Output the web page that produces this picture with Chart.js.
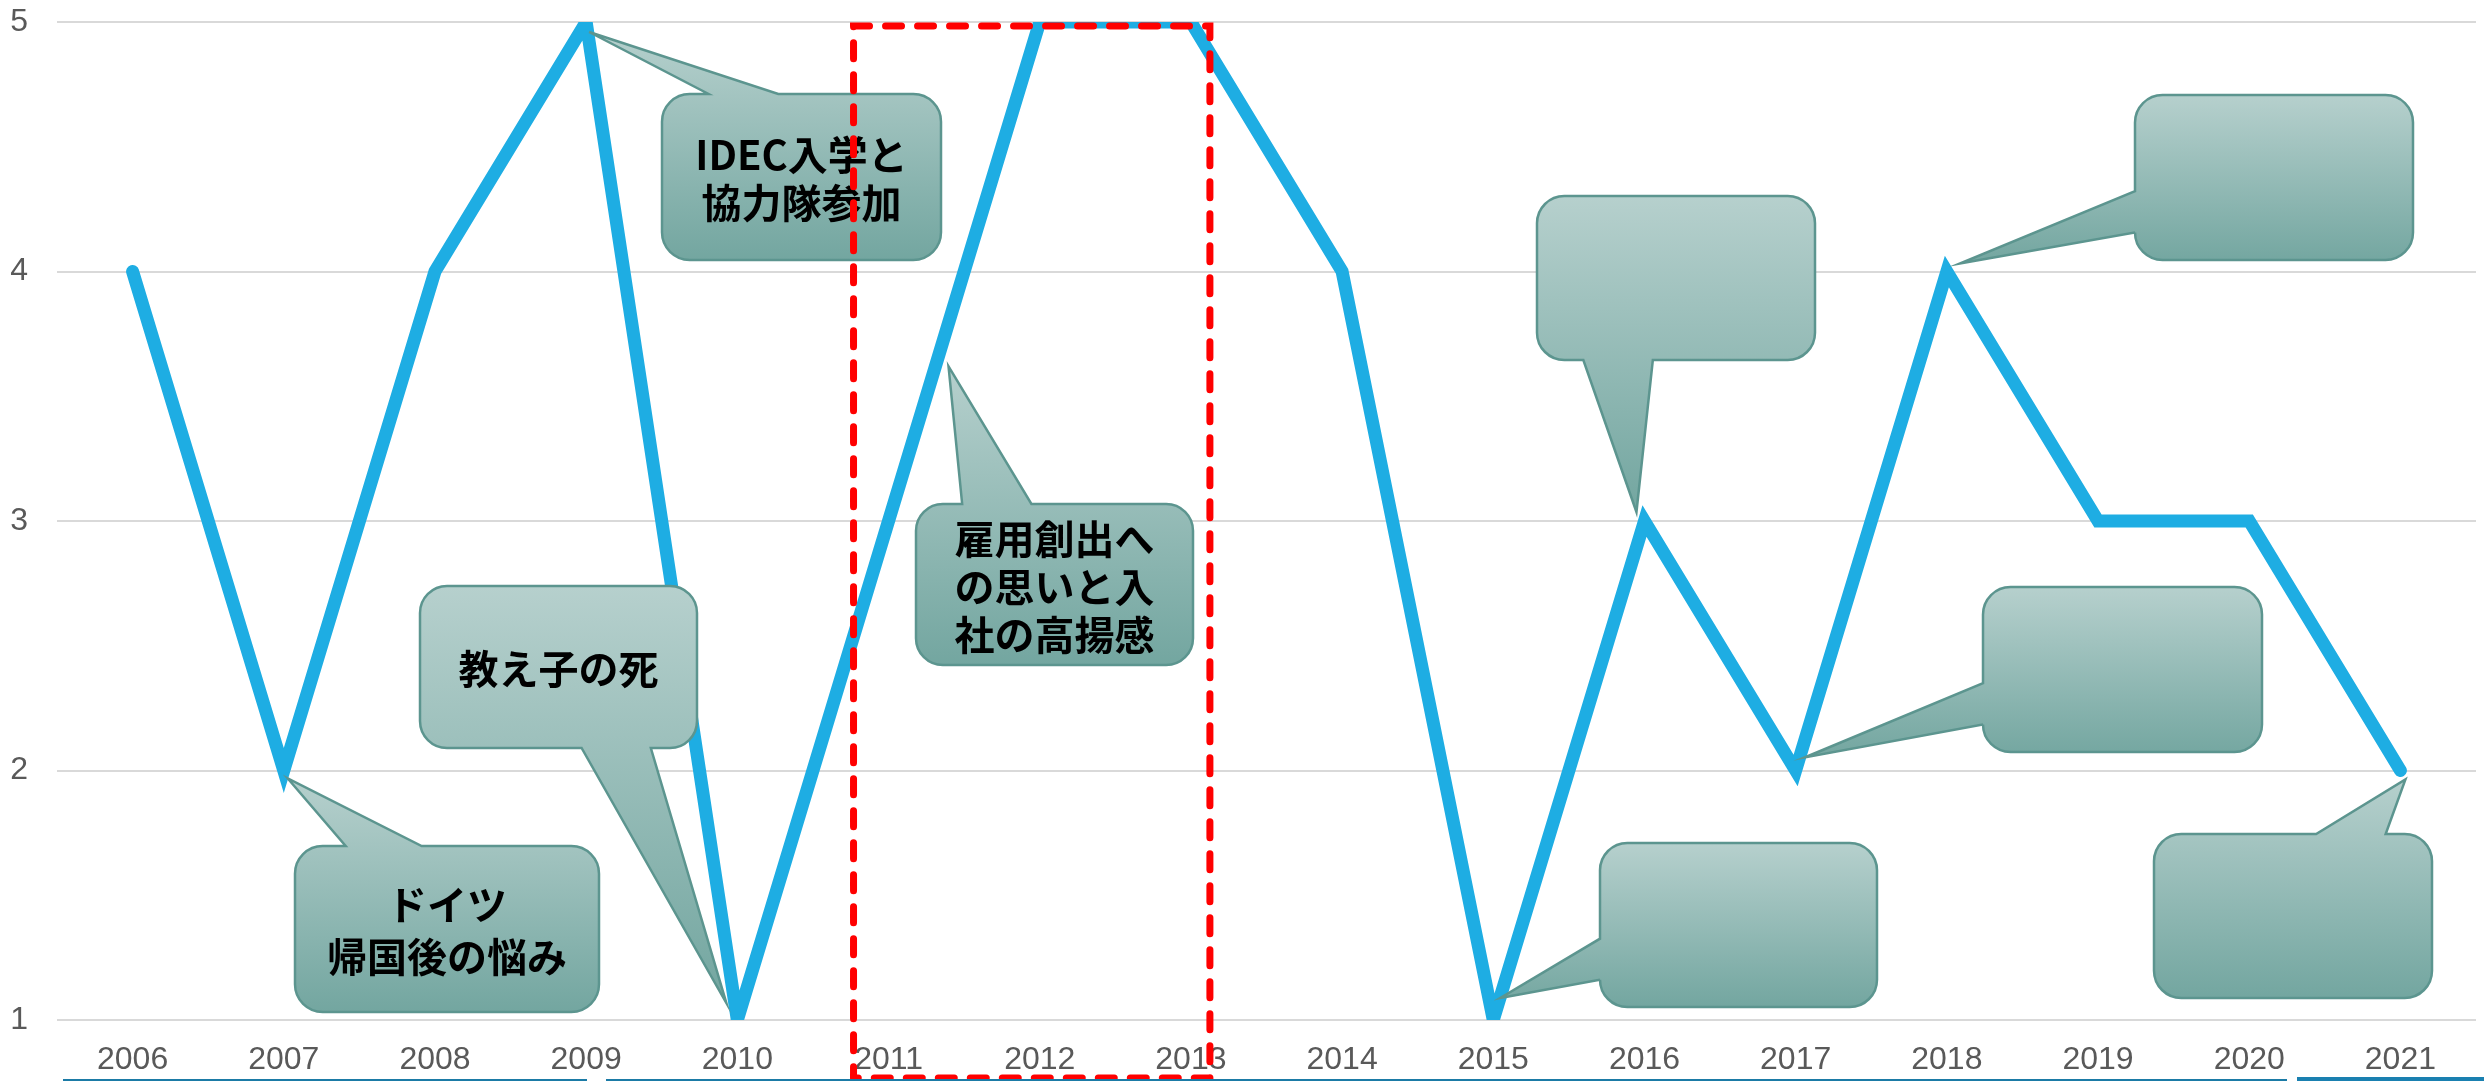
<!DOCTYPE html>
<html>
<head>
<meta charset="utf-8">
<script src="https://cdn.jsdelivr.net/npm/chart.js@4.4.1/dist/chart.umd.min.js"></script>
<style>
  html, body { margin: 0; padding: 0; background: #fff; }
  #wrap { width: 2484px; height: 1081px; }
</style>
</head>
<body>
<div id="wrap"><canvas id="lifeChart" width="2484" height="1081"></canvas></div>
<script>
// chart data
const years = ['2006', '2007', '2008', '2009', '2010', '2011', '2012', '2013',
	'2014', '2015', '2016', '2017', '2018', '2019', '2020', '2021'];
const values = [4, 2, 4, 5, 1, 3, 5, 5, 4, 1, 3, 2, 4, 3, 3, 2];
const yTicks = [1, 2, 3, 4, 5];

// callout texts (empty ones are blank boxes in the original)
const calloutTexts = [
	['IDEC入学と', '協力隊参加'],
	['ドイツ', '帰国後の悩み'],
	['教え子の死'],
	['雇用創出へ', 'の思いと入', '社の高揚感'],
	[], [], [], [], []
];

// box = pixel rectangle, tip points to a data index (i) / value (v) plus a nudge
const calloutBoxes = [
	{ box: [662, 94, 941, 260], i: 3, v: 5, dx: 3, dy: 10, lh: 48 },
	{ box: [295, 846, 599, 1012], i: 1, v: 2, dx: 4, dy: 8, lh: 52 },
	{ box: [420, 586, 697, 748], i: 4, v: 1, dx: -11, dy: -17, lh: 48 },
	{ box: [916, 504, 1193, 665], i: 5, v: 3.62, dx: 60, dy: 0, lh: 48 },
	{ box: [1537, 196, 1815, 360], i: 10, v: 3, dx: -8, dy: -9 },
	{ box: [2135, 95, 2413, 260], i: 12, v: 4, dx: 13, dy: -8 },
	{ box: [1983, 587, 2262, 752], i: 11, v: 2, dx: 9, dy: -13 },
	{ box: [2154, 834, 2432, 998], i: 15, v: 2, dx: 5, dy: 9 },
	{ box: [1600, 843, 1877, 1007], i: 9, v: 1, dx: 7, dy: -22 }
];

// rounded rectangle callout, wedge placed like PowerPoint's wedgeRoundRectCallout
function calloutPath(ctx, l, t, r, b, tip) {
	const w = r - l, h = b - t;
	const dx = tip.x - (l + r) / 2, dy = tip.y - (t + b) / 2;
	const dq = dx * h / w;
	const rad = Math.min(w, h) * 0.16667;
	const x1 = l + w * (dx > 0 ? 7 : 2) / 12, x2 = l + w * (dx > 0 ? 10 : 5) / 12;
	const y1 = t + h * (dy > 0 ? 7 : 2) / 12, y2 = t + h * (dy > 0 ? 10 : 5) / 12;
	let side;
	if (Math.abs(dy) - Math.abs(dq) > 0) side = dy > 0 ? 'bottom' : 'top';
	else side = dx > 0 ? 'right' : 'left';

	ctx.beginPath();
	ctx.moveTo(l + rad, t);
	if (side === 'top') { ctx.lineTo(x1, t); ctx.lineTo(tip.x, tip.y); ctx.lineTo(x2, t); }
	ctx.lineTo(r - rad, t);
	ctx.arcTo(r, t, r, t + rad, rad);
	if (side === 'right') { ctx.lineTo(r, y1); ctx.lineTo(tip.x, tip.y); ctx.lineTo(r, y2); }
	ctx.lineTo(r, b - rad);
	ctx.arcTo(r, b, r - rad, b, rad);
	if (side === 'bottom') { ctx.lineTo(x2, b); ctx.lineTo(tip.x, tip.y); ctx.lineTo(x1, b); }
	ctx.lineTo(l + rad, b);
	ctx.arcTo(l, b, l, b - rad, rad);
	if (side === 'left') { ctx.lineTo(l, y2); ctx.lineTo(tip.x, tip.y); ctx.lineTo(l, y1); }
	ctx.lineTo(l, t + rad);
	ctx.arcTo(l, t, l + rad, t, rad);
	ctx.closePath();
}

const calloutPlugin = {
	id: 'callouts',
	afterDraw (chart) {
		const ctx = chart.ctx;
		const xs = chart.scales.x, ys = chart.scales.y;

		calloutBoxes.forEach((c, n) => {
			const [l, t, r, b] = c.box;
			const tip = {
				x: xs.getPixelForValue(c.i) + c.dx,
				y: ys.getPixelForValue(c.v) + c.dy
			};
			ctx.save();
			const g = ctx.createLinearGradient(0, Math.min(t, tip.y), 0, Math.max(b, tip.y));
			g.addColorStop(0, '#B6D0CD');
			g.addColorStop(1, '#73A6A0');
			calloutPath(ctx, l, t, r, b, tip);
			ctx.fillStyle = g;
			ctx.fill();
			ctx.lineWidth = 2.5;
			ctx.strokeStyle = '#5C958F';
			ctx.stroke();

			const lines = calloutTexts[n];
			if (lines.length) {
				ctx.fillStyle = '#000';
				ctx.font = 'bold 40px "Noto Sans CJK JP"';
				ctx.textAlign = 'center';
				ctx.textBaseline = 'middle';
				const cy = (t + b) / 2 + 2 - (lines.length - 1) * c.lh / 2;
				lines.forEach((s, k) => ctx.fillText(s, (l + r) / 2, cy + k * c.lh));
			}
			ctx.restore();
		});

		// red dashed highlight around 2011-2013
		const left = xs.getPixelForValue(5) - 35;
		const right = xs.getPixelForValue(7) + 19;
		const top = ys.getPixelForValue(5) + 4;
		ctx.save();
		ctx.strokeStyle = '#FF0000';
		ctx.lineWidth = 7;
		ctx.lineCap = 'round';
		ctx.setLineDash([16, 16]);
		ctx.strokeRect(left, top, right - left, 1078 - top);
		ctx.restore();

		// strip of the next element peeking in at the bottom edge
		ctx.save();
		ctx.fillStyle = '#1B7BA6';
		ctx.fillRect(63, 1079, 524, 2);
		ctx.fillRect(606, 1079, 1681, 2);
		ctx.fillStyle = '#1A80B0';
		ctx.fillRect(2297, 1077, 187, 4);
		ctx.restore();
	}
};

const tickFont = { family: '"Liberation Sans", Arial, sans-serif', size: 32 };

new Chart(document.getElementById('lifeChart').getContext('2d'), {
	type: 'line',
	data: {
		labels: years,
		datasets: [{
			data: values,
			borderColor: '#1EADE3',
			borderWidth: 13,
			borderCapStyle: 'round',
			borderJoinStyle: 'miter',
			pointRadius: 0,
			tension: 0,
			fill: false,
			clip: 0
		}]
	},
	options: {
		responsive: false,
		animation: false,
		devicePixelRatio: 1,
		layout: { padding: { top: 22, right: 8, left: 0, bottom: 0 } },
		plugins: {
			legend: { display: false },
			tooltip: { enabled: false }
		},
		scales: {
			x: {
				offset: true,
				grid: { display: false },
				border: { display: false },
				ticks: { color: '#595959', font: tickFont, padding: 13, maxRotation: 0, autoSkip: false },
				afterFit (scale) {
					scale.height = 61;
					scale.paddingLeft = 0;
					scale.paddingRight = 0;
				}
			},
			y: {
				min: 1,
				max: 5,
				afterBuildTicks (scale) { scale.ticks = yTicks.map(v => ({ value: v })); },
				grid: { color: '#D9D9D9', lineWidth: 2, drawTicks: false },
				border: { display: false },
				ticks: { color: '#595959', font: tickFont, padding: 29 },
				afterFit (scale) {
					scale.width = 57;
					scale.paddingTop = 0;
					scale.paddingBottom = 0;
				}
			}
		}
	},
	plugins: [calloutPlugin]
});
</script>
</body>
</html>
